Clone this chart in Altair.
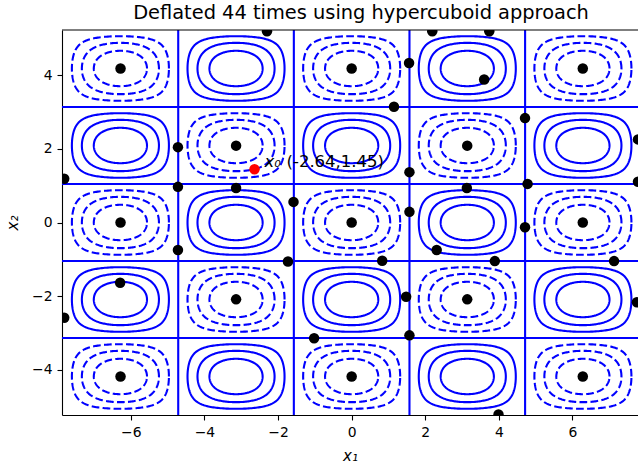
import numpy as np
import pandas as pd
import altair as alt

PI = np.pi

# ---------------- data ----------------
title_text = "Deflated 44 times using hypercuboid approach"

# contour function f(x1, x2) = -cos(x1) * cos(1.5 x2); |levels| drawn in each cell
levels = [0.25, 0.5, 0.75]
cell_x = [-2 * PI, -PI, 0.0, PI, 2 * PI]
cell_y = [-4 * PI / 3, -2 * PI / 3, 0.0, 2 * PI / 3, 4 * PI / 3]
zero_x = [-3 * PI / 2, -PI / 2, PI / 2, 3 * PI / 2]
zero_y = [-PI, -PI / 3, PI / 3, PI]

# solutions found by deflation
sol_x = [-6.28, -2.30, 0.00, 1.56, 2.19, 3.74, 3.60, 6.28, 1.15, 4.71,
         -4.72, -3.14, 3.14, 7.78, -7.81, -4.72, -3.14, 1.57, 3.13, 4.78,
         7.78, -1.58, 1.57, -6.28, 0.00, 6.28, 4.71, -4.72, 2.31, -1.73,
         0.83, 3.89, 7.13, -6.29, -3.14, 3.14, 1.48, 7.75, -7.81, 1.57,
         -1.02, -6.28, 0.00, 6.28, 3.99]
sol_y = [4.19, 5.20, 4.19, 4.34, 5.20, 5.20, 3.89, 4.19, 3.15, 2.84,
         2.05, 2.09, 2.09, 2.26, 1.19, 0.97, 0.94, 1.37, 0.94, 1.05,
         1.11, 0.56, 0.29, 0.00, 0.00, 0.00, -0.13, -0.75, -0.75, -1.06,
         -1.04, -1.05, -1.05, -1.64, -2.09, -2.09, -2.02, -2.17, -2.59, -3.07,
         -3.15, -4.19, -4.19, -4.19, -5.22]

x0_x = [-2.64]
x0_y = [1.45]
x0_sym = ["x₀"]
x0_txt = ["(-2.64,1.45)"]

x_ticks = [-6, -4, -2, 0, 2, 4, 6]
y_ticks = [-4, -2, 0, 2, 4]
x_domain = [-7.87, 7.78]
y_domain = [-5 * PI / 3, 5 * PI / 3]

# ---------------- contour paths ----------------
theta = np.linspace(0, 2 * np.pi, 241)
rows = []
cid = 0
for i, a in enumerate(cell_x):
    for j, b in enumerate(cell_y):
        neg = (i + j) % 2 == 0
        for c in levels:
            u = np.sign(np.cos(theta)) * np.arccos(c ** (np.cos(theta) ** 2))
            v = np.sign(np.sin(theta)) * np.arccos(c ** (np.sin(theta) ** 2))
            for k in range(len(theta)):
                rows.append({"x": a + u[k], "y": b + v[k] / 1.5, "o": k,
                             "cid": cid, "neg": neg})
            cid += 1
cont = pd.DataFrame(rows)
solid_df = cont[~cont["neg"]]
dash_df = cont[cont["neg"]]

W, H = 576, 385
BLUE = "#0000ff"
FONT = "DejaVu Sans"

xscale = alt.Scale(domain=x_domain, nice=False, zero=False)
yscale = alt.Scale(domain=y_domain, nice=False, zero=False)
xaxis = alt.Axis(values=x_ticks, title="x₁", titleFontStyle="italic", grid=False)
yaxis = alt.Axis(values=y_ticks, title="x₂", titleFontStyle="italic", grid=False)

solid = alt.Chart(solid_df).mark_line(color=BLUE, strokeWidth=2.1, clip=True).encode(
    x=alt.X("x:Q", scale=xscale, axis=xaxis),
    y=alt.Y("y:Q", scale=yscale, axis=yaxis),
    detail="cid:N",
    order="o:Q",
)
dashed = alt.Chart(dash_df).mark_line(color=BLUE, strokeWidth=2.1, strokeDash=[7.7, 3.3], clip=True).encode(
    x=alt.X("x:Q", scale=xscale),
    y=alt.Y("y:Q", scale=yscale),
    detail="cid:N",
    order="o:Q",
)
vz = alt.Chart(pd.DataFrame({"x": zero_x})).mark_rule(color=BLUE, strokeWidth=2.1).encode(
    x=alt.X("x:Q", scale=xscale)
)
hz = alt.Chart(pd.DataFrame({"y": zero_y})).mark_rule(color=BLUE, strokeWidth=2.1).encode(
    y=alt.Y("y:Q", scale=yscale)
)
dots = alt.Chart(pd.DataFrame({"x": sol_x, "y": sol_y})).mark_circle(
    color="black", opacity=1, size=110, clip=True
).encode(x=alt.X("x:Q", scale=xscale), y=alt.Y("y:Q", scale=yscale))

x0_df = pd.DataFrame({"x": x0_x, "y": x0_y, "s": x0_sym, "t": x0_txt})
red = alt.Chart(x0_df).mark_circle(color="#ff0000", opacity=1, size=110).encode(
    x=alt.X("x:Q", scale=xscale), y=alt.Y("y:Q", scale=yscale)
)
lab1 = alt.Chart(x0_df).mark_text(
    align="left", baseline="alphabetic", dx=10, dy=-2, fontSize=16.5,
    font=FONT, fontStyle="italic", color="black"
).encode(x=alt.X("x:Q", scale=xscale), y=alt.Y("y:Q", scale=yscale), text="s:N")
lab2 = alt.Chart(x0_df).mark_text(
    align="left", baseline="alphabetic", dx=32, dy=-2, fontSize=16.5,
    font=FONT, color="black"
).encode(x=alt.X("x:Q", scale=xscale), y=alt.Y("y:Q", scale=yscale), text="t:N")

topspine = alt.Chart(pd.DataFrame({"a": [0]})).mark_rule(color="black", strokeWidth=1.1).encode(
    x=alt.value(0), x2=alt.value(W), y=alt.value(0)
)

chart = alt.layer(
    solid, dashed, vz, hz, dots, red, lab1, lab2, topspine
).properties(
    width=W, height=H,
    title=alt.TitleParams(title_text, font=FONT, fontSize=19.4, fontWeight="normal",
                          color="black", anchor="middle", dx=11, offset=6),
    autosize=alt.AutoSizeParams(type="none"),
    padding={"left": 62, "top": 30, "right": 0, "bottom": 52},
).configure_view(stroke=None).configure_axis(
    domainColor="black", domainWidth=1.1, tickColor="black", tickWidth=1.1, tickSize=5,
    labelColor="black", titleColor="black", labelFont=FONT, titleFont=FONT,
    labelFontSize=13.9, titleFontSize=15, titleFontWeight="normal", labelPadding=5,
).configure_axisX(titlePadding=10).configure_axisY(titlePadding=11)

chart.save("out.html", embed_options={"renderer": "svg", "actions": False})
